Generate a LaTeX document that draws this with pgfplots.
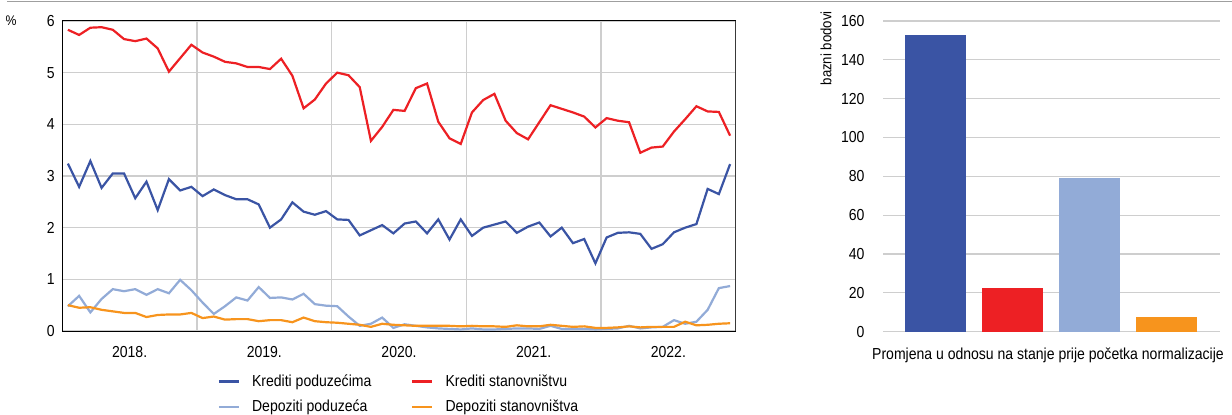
\documentclass[border=0pt]{standalone}
\usepackage{fontspec}
\setmainfont{Liberation Sans}[FakeStretch=0.88]
\usepackage{pgfplots}
\pgfplotsset{compat=1.18}
\usepackage{pgfplotstable}
\definecolor{cdb}{RGB}{58,84,164}
\definecolor{cred}{RGB}{237,32,36}
\definecolor{clb}{RGB}{146,171,215}
\definecolor{cor}{RGB}{247,148,29}
\definecolor{cgrid}{RGB}{206,206,206}

\pgfplotstableread{
x kp ks dp ds
0.5 3.24 5.83 0.48 0.50
1.5 2.79 5.73 0.68 0.45
2.5 3.29 5.87 0.36 0.46
3.5 2.77 5.88 0.62 0.41
4.5 3.05 5.83 0.81 0.38
5.5 3.05 5.65 0.77 0.35
6.5 2.57 5.61 0.81 0.35
7.5 2.89 5.66 0.70 0.27
8.5 2.34 5.47 0.81 0.31
9.5 2.94 5.02 0.73 0.32
10.5 2.72 5.28 0.99 0.32
11.5 2.79 5.54 0.79 0.35
12.5 2.61 5.39 0.55 0.25
13.5 2.74 5.31 0.33 0.28
14.5 2.63 5.21 0.48 0.22
15.5 2.55 5.18 0.65 0.23
16.5 2.55 5.11 0.59 0.23
17.5 2.45 5.11 0.85 0.19
18.5 2.00 5.07 0.64 0.21
19.5 2.16 5.27 0.65 0.21
20.5 2.49 4.94 0.61 0.17
21.5 2.31 4.31 0.72 0.26
22.5 2.25 4.48 0.52 0.19
23.5 2.32 4.79 0.49 0.17
24.5 2.16 5.00 0.48 0.16
25.5 2.15 4.95 0.28 0.14
26.5 1.85 4.72 0.10 0.12
27.5 1.95 3.68 0.14 0.08
28.5 2.05 3.95 0.26 0.14
29.5 1.89 4.28 0.06 0.12
30.5 2.08 4.26 0.13 0.11
31.5 2.12 4.70 0.10 0.10
32.5 1.89 4.79 0.07 0.10
33.5 2.16 4.05 0.05 0.10
34.5 1.77 3.73 0.04 0.10
35.5 2.16 3.62 0.03 0.09
36.5 1.84 4.23 0.05 0.10
37.5 2.00 4.47 0.03 0.09
38.5 2.06 4.59 0.03 0.09
39.5 2.12 4.07 0.04 0.08
40.5 1.90 3.83 0.05 0.11
41.5 2.02 3.71 0.05 0.09
42.5 2.10 4.04 0.04 0.09
43.5 1.83 4.37 0.10 0.12
44.5 2.00 4.30 0.04 0.10
45.5 1.70 4.23 0.04 0.08
46.5 1.78 4.15 0.04 0.09
47.5 1.31 3.94 0.03 0.06
48.5 1.81 4.12 0.04 0.06
49.5 1.90 4.07 0.05 0.07
50.5 1.91 4.04 0.10 0.09
51.5 1.88 3.45 0.05 0.07
52.5 1.59 3.55 0.07 0.08
53.5 1.68 3.57 0.08 0.08
54.5 1.91 3.86 0.21 0.08
55.5 2.00 4.10 0.14 0.18
56.5 2.07 4.35 0.18 0.11
57.5 2.75 4.25 0.41 0.12
58.5 2.65 4.24 0.83 0.14
59.5 3.23 3.78 0.87 0.15
}\linedata

\begin{document}
\begin{tikzpicture}
\useasboundingbox (0bp,0bp) rectangle (1232bp,415bp);
\draw[gray!75, line width=1.4bp] (7bp,413.4bp) -- (1232bp,413.4bp);
\node[font=\fontsize{14}{16}\selectfont, inner sep=0pt] at (11bp,394bp) {\%};

\begin{axis}[
  at={(62.3bp,84bp)}, anchor=south west, scale only axis,
  width=673.4bp, height=310bp,
  xmin=0, xmax=60, ymin=0, ymax=6,
  ytick={0,1,2,3,4,5,6},
  xtick={12,24,36,48},
  xticklabels={},
  extra x ticks={6,18,30,42,54},
  extra x tick labels={2018.,2019.,2020.,2021.,2022.},
  extra x tick style={grid=none, xticklabel style={yshift=-12bp}},
  xmajorgrids=true, ymajorgrids=true,
  tick style={draw=none},
  grid style={cgrid, line width=1.2bp},
  axis line style={black, line width=1bp},
  tick label style={font=\fontsize{16}{19}\selectfont},
  /pgf/number format/assume math mode=true,
  yticklabel style={xshift=-4bp},
  legend columns=2,
  legend cell align=left,
  legend style={at={(axis description cs:0.5,-0.128)}, anchor=north, draw=none, fill=none,
    font=\fontsize{16}{19}\selectfont, row sep=8bp,
    /tikz/every odd column/.append style={column sep=10bp},
    /tikz/every even column/.append style={column sep=38bp}},
  legend image code/.code={\draw[#1, line width=2.2bp] (0bp,0bp) -- (20bp,0bp);},
]
\addplot[cdb, line width=2.2bp] table[x=x, y=kp] {\linedata};
\addlegendentry{Krediti poduzećima}
\addplot[cred, line width=2.2bp] table[x=x, y=ks] {\linedata};
\addlegendentry{Krediti stanovništvu}
\addplot[clb, line width=2.2bp] table[x=x, y=dp] {\linedata};
\addlegendentry{Depoziti poduzeća}
\addplot[cor, line width=2.2bp] table[x=x, y=ds] {\linedata};
\addlegendentry{Depoziti stanovništva}
\draw[black!65, line width=1.6bp] (rel axis cs:1,0) -- (rel axis cs:1,1);
\end{axis}

\begin{axis}[
  at={(883bp,83.3bp)}, anchor=south west, scale only axis,
  width=337bp, height=310.7bp,
  xmin=-0.68, xmax=3.687, ymin=0, ymax=160,
  ytick={0,20,...,160}, xtick=\empty,
  ymajorgrids=true,
  grid style={cgrid, line width=1.2bp},
  axis line style={draw=none}, tick style={draw=none},
  tick label style={font=\fontsize{16}{19}\selectfont},
  /pgf/number format/assume math mode=true,
  yticklabel style={xshift=-15bp},
  ybar, bar width=61bp,
  ylabel={bazni bodovi},
  ylabel style={at={(axis description cs:-0.169,1.042)}, anchor=east, font=\fontsize{15}{18}\selectfont},
  xlabel={Promjena u odnosu na stanje prije početka normalizacije},
  xlabel style={at={(axis description cs:0.5,0)}, anchor=center, yshift=-24bp, xshift=-3.5bp, font=\fontsize{16}{19}\selectfont},
]
\addplot[fill=cdb, draw=none, bar shift=0pt] coordinates {(0,153)};
\addplot[fill=cred, draw=none, bar shift=0pt] coordinates {(1,22.5)};
\addplot[fill=clb, draw=none, bar shift=0pt] coordinates {(2,79)};
\addplot[fill=cor, draw=none, bar shift=0pt] coordinates {(3,7.5)};
\end{axis}
\end{tikzpicture}
\end{document}
